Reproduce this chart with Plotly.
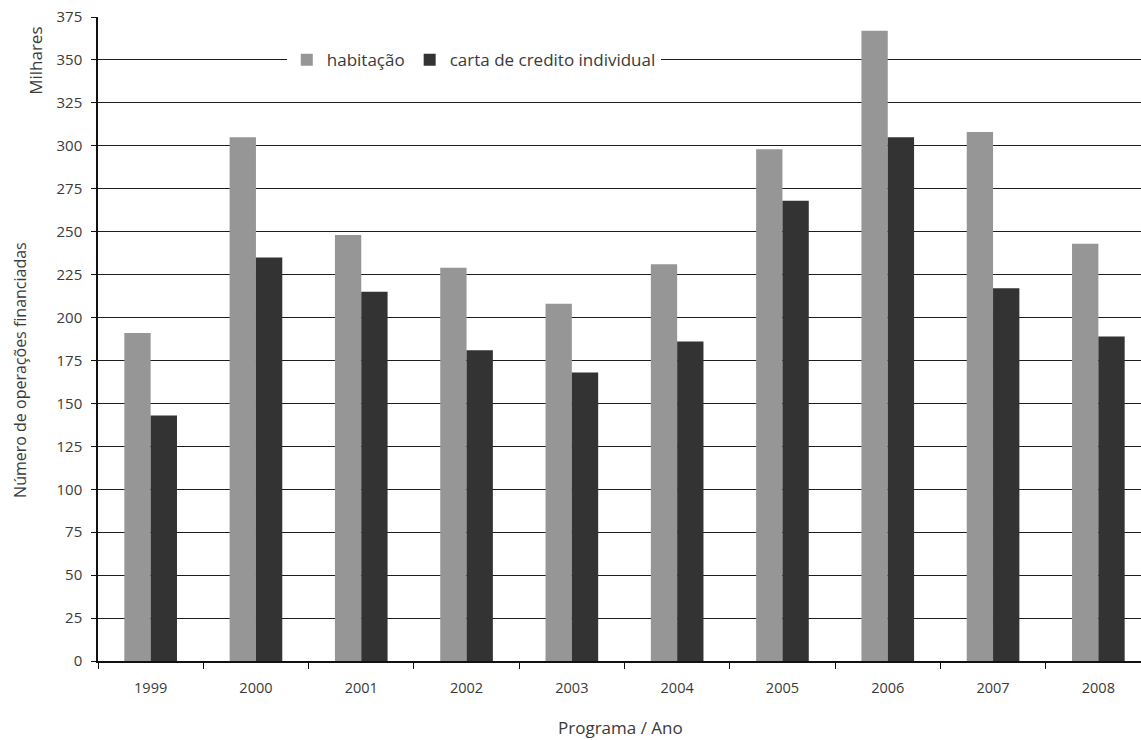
import plotly.graph_objects as go

years = ["1999", "2000", "2001", "2002", "2003", "2004", "2005", "2006", "2007", "2008"]
habitacao = [191, 305, 248, 229, 208, 231, 298, 367, 308, 243]
carta_credito = [143, 235, 215, 181, 168, 186, 268, 305, 217, 189]
y_ticks = list(range(0, 376, 25))

FONT = "Open Sans"
TXT = "#3a3a3a"

fig = go.Figure()
fig.add_trace(go.Bar(x=years, y=habitacao, name="habitação",
                     marker=dict(color="#969696", line=dict(width=0))))
fig.add_trace(go.Bar(x=years, y=carta_credito, name="carta de credito individual",
                     marker=dict(color="#333333", line=dict(width=0))))

fig.update_layout(
    width=1141, height=740,
    margin=dict(l=98, r=0, t=17, b=79),
    paper_bgcolor="white", plot_bgcolor="white",
    barmode="group", bargap=0.5, bargroupgap=0,
    font=dict(family=FONT, color=TXT, size=14),
    showlegend=True,
    legend=dict(orientation="h", x=0.181, y=0.933, xanchor="left", yanchor="middle",
                bgcolor="white", font=dict(size=17, color=TXT, family=FONT),
                traceorder="normal", itemclick=False),
    xaxis=dict(type="category", range=[-0.5, 9.405], showgrid=False,
               showline=True, linecolor="#111111", linewidth=1.5,
               ticks="outside", tickson="boundaries", ticklen=6, tickcolor="#111111",
               tickwidth=1, tickfont=dict(size=14.5, color=TXT),
               ticklabelstandoff=13, zeroline=False),
    yaxis=dict(range=[0, 375], tickvals=y_ticks, showgrid=True,
               gridcolor="#1e1e1e", gridwidth=1.3,
               showline=True, linecolor="#111111", linewidth=1.5,
               ticks="outside", ticklen=5, tickcolor="#111111", tickwidth=1,
               tickfont=dict(size=15, color=TXT), ticklabelstandoff=6,
               zeroline=False),
    annotations=[
        dict(text="Milhares", x=-0.0594, y=0.932, xref="paper", yref="paper",
             textangle=-90, showarrow=False, font=dict(size=17, color=TXT, family=FONT),
             xanchor="center", yanchor="middle"),
        dict(text="Número de operações financiadas", x=-0.0748, y=0.452,
             xref="paper", yref="paper", textangle=-90, showarrow=False,
             font=dict(size=16, color=TXT, family=FONT),
             xanchor="center", yanchor="middle"),
        dict(text="Programa / Ano", x=0.5005, y=-0.104, xref="paper", yref="paper",
             showarrow=False, font=dict(size=17, color=TXT, family=FONT),
             xanchor="center", yanchor="middle"),
    ],
)

fig.write_html("out.html", post_script="document.body.style.margin='0';",
               config={"displayModeBar": False})
